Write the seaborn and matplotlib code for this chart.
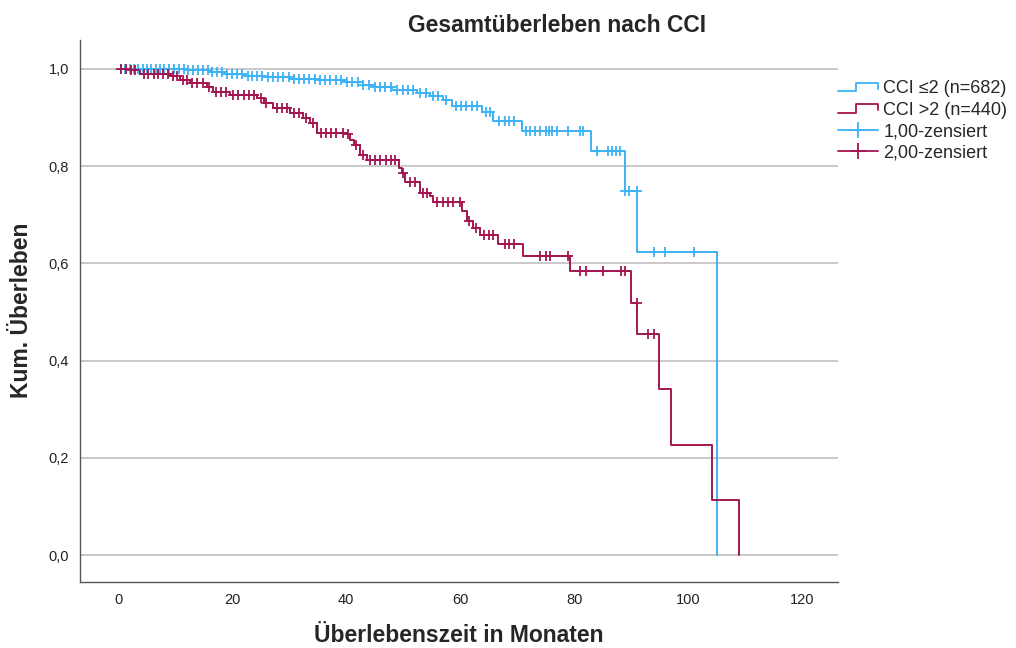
import numpy as np
import pandas as pd
import matplotlib
matplotlib.use("Agg")
import matplotlib.pyplot as plt
import seaborn as sns
from matplotlib.lines import Line2D
from matplotlib.legend_handler import HandlerBase
from matplotlib.ticker import FuncFormatter
from matplotlib import font_manager

# ---- data ----
blue_times = [0, 12, 16, 19, 22, 26, 30, 35, 40, 43, 45, 48, 52.4, 54.7, 57, 58.6,
              63.8, 65.8, 70.8, 82.9, 88.9, 91.1, 105]
blue_surv = [1.0, 0.997, 0.994, 0.990, 0.986, 0.983, 0.979, 0.976, 0.973, 0.967, 0.962,
             0.957, 0.950, 0.943, 0.935, 0.923, 0.912, 0.892, 0.872, 0.831, 0.748, 0.623, 0.0]
blue_cens = [0.5, 1.2, 2.0, 2.8, 3.5, 4.3, 5.1, 5.8, 6.6, 7.4, 8.1, 9.0, 9.8, 10.6, 11.5,
             12.3, 13.1, 14.0, 14.8, 15.7, 16.5, 17.4, 18.2, 19.1, 20.0, 20.9, 21.8, 22.7,
             23.5, 24.4, 25.3, 26.2, 27.1, 28.0, 29.0, 29.9, 30.8, 31.7, 32.6, 33.5, 34.5,
             35.4, 36.3, 37.2, 38.2, 39.1, 40.1, 41.0, 42.0, 43.0, 44.0, 45.0, 46.0, 46.9,
             47.9, 48.9, 49.9, 50.9, 51.8, 53.0, 54.0, 55.2, 56.2, 57.5, 59.2, 60.2, 61.1,
             62.0, 63.0, 64.5, 65.2, 66.9, 67.8, 68.6, 69.5, 71.5, 72.3, 73.1, 74.0, 75.0,
             75.6, 76.1, 77.0, 79.0, 81.0, 81.6, 84.0, 86.0, 86.7, 87.4, 88.1, 89.0, 89.6,
             91.0, 94.0, 96.0, 101.0]

red_times = [0, 2.1, 3.9, 9.1, 10.9, 12.6, 15.6, 16.7, 19.6, 24.3, 25.5, 27.2, 30.2, 32.5,
             33.7, 34.9, 40.1, 40.7, 41.3, 42.5, 43.6, 49.2, 49.8, 50.4, 53.0, 54.7, 55.3,
             60.3, 61.2, 62.3, 63.5, 66.7, 71.0, 79.2, 89.9, 91.1, 94.9, 97.0, 104.2, 109.0]
red_surv = [1.0, 0.997, 0.990, 0.984, 0.977, 0.970, 0.963, 0.953, 0.946, 0.939, 0.929,
            0.919, 0.908, 0.898, 0.888, 0.868, 0.865, 0.854, 0.844, 0.823, 0.813, 0.796,
            0.785, 0.768, 0.744, 0.738, 0.727, 0.707, 0.686, 0.673, 0.659, 0.640, 0.615,
            0.584, 0.519, 0.454, 0.342, 0.227, 0.114, 0.0]
red_cens = [0.5, 1.3, 2.2, 3.0, 4.5, 5.3, 6.2, 7.0, 7.9, 8.7, 9.6, 10.4, 11.3, 12.1, 13.0,
            13.9, 14.8, 16.0, 17.2, 18.1, 19.0, 20.2, 21.1, 22.0, 22.9, 23.8, 25.0, 26.0,
            27.8, 28.7, 29.6, 30.8, 31.7, 33.0, 34.2, 35.5, 36.4, 37.3, 38.2, 39.4, 40.4,
            41.8, 43.0, 44.2, 45.1, 46.0, 47.0, 47.9, 48.6, 50.0, 51.2, 52.0, 53.5, 54.2,
            56.0, 57.0, 57.9, 58.8, 60.0, 61.5, 62.8, 64.2, 65.0, 65.8, 67.8, 68.6, 69.4,
            74.0, 75.0, 75.8, 79.0, 81.0, 82.0, 85.0, 88.2, 89.0, 91.0, 93.0, 94.0]

series_labels = ["CCI \u22642 (n=682)", "CCI >2 (n=440)"]
censor_labels = ["1,00-zensiert", "2,00-zensiert"]
x_ticks = [0, 20, 40, 60, 80, 100, 120]
y_ticks = [0.0, 0.2, 0.4, 0.6, 0.8, 1.0]

BLUE = "#3db2f5"
RED = "#a3164f"

sns.set_theme(style="white")
installed = {f.name for f in font_manager.fontManager.ttflist}
fams = [f for f in ["DejaVu Sans Condensed", "Liberation Sans Narrow", "Liberation Sans"]
        if f in installed] + ["DejaVu Sans"]
plt.rcParams["font.family"] = fams

fig = plt.figure(figsize=(10.16, 6.48), dpi=100)
ax = fig.add_axes([80 / 1016, 1 - 582 / 648, (838 - 80) / 1016, (582 - 40) / 648])


def surv_at(times, surv, t):
    idx = np.searchsorted(np.asarray(times), t, side="right") - 1
    return np.asarray(surv)[idx]


for ax_y in y_ticks:
    ax.axhline(ax_y, color="#c9c9c9", lw=1.4, zorder=0)

for times, surv, cens, col in [(blue_times, blue_surv, blue_cens, BLUE),
                               (red_times, red_surv, red_cens, RED)]:
    df = pd.DataFrame({"t": times, "s": surv})
    sns.lineplot(data=df, x="t", y="s", drawstyle="steps-post", color=col, lw=1.4,
                 ax=ax, estimator=None, sort=False, zorder=3)
    cdf = pd.DataFrame({"t": cens, "s": surv_at(times, surv, np.asarray(cens))})
    sns.scatterplot(data=cdf, x="t", y="s", marker="+", s=60, linewidth=1.3,
                    color=col, ax=ax, zorder=4)

ax.set_xlim(-6.7, 126.3)
ax.set_ylim(-0.055, 1.059)
ax.set_xticks(x_ticks)
ax.set_yticks(y_ticks)
ax.xaxis.set_major_formatter(FuncFormatter(lambda v, p: f"{v:.0f}"))
ax.yaxis.set_major_formatter(FuncFormatter(lambda v, p: f"{v:.1f}".replace(".", ",")))
ax.tick_params(axis="both", length=0, labelsize=10.5, colors="#222222")
ax.tick_params(axis="x", pad=8)
ax.tick_params(axis="y", pad=8)
for side in ["top", "right"]:
    ax.spines[side].set_visible(False)
for side in ["left", "bottom"]:
    ax.spines[side].set_color("#555555")
    ax.spines[side].set_linewidth(1.0)
ax.set_xlabel("")
ax.set_ylabel("")

fig.text(459 / 1016, 1 - 635 / 648, "\u00dcberlebenszeit in Monaten", ha="center",
         va="center", fontsize=16.5, fontweight="bold")
fig.text(22 / 1016, 1 - 310 / 648, "Kum. \u00dcberleben", ha="center", va="center",
         rotation=90, fontsize=16.5, fontweight="bold")
fig.text(557 / 1016, 1 - 25 / 648, "Gesamt\u00fcberleben nach CCI", ha="center",
         va="center", fontsize=16.5, fontweight="bold")


class StepHandler(HandlerBase):
    def create_artists(self, legend, orig_handle, xdescent, ydescent, width, height,
                       fontsize, trans):
        x0, y0 = -xdescent, -ydescent
        lo, hi = y0 + height * 0.15, y0 + height * 0.8
        xs = [x0, x0 + width * 0.45, x0 + width * 0.45, x0 + width, x0 + width]
        ys = [lo, lo, hi, hi, y0 + height * 0.35]
        ln = Line2D(xs, ys, color=orig_handle.get_color(), lw=1.3)
        ln.set_transform(trans)
        return [ln]


h1 = Line2D([], [], color=BLUE)
h2 = Line2D([], [], color=RED)
h3 = Line2D([], [], color=BLUE, marker="+", markersize=12, markeredgewidth=1.3, lw=1.3)
h4 = Line2D([], [], color=RED, marker="+", markersize=12, markeredgewidth=1.3, lw=1.3)
leg = fig.legend([h1, h2, h3, h4], series_labels + censor_labels,
                 loc="upper left", bbox_to_anchor=(838 / 1016, 1 - 80 / 648),
                 frameon=False, fontsize=13, handlelength=2.2, handletextpad=0.3,
                 labelspacing=0.25, borderaxespad=0, borderpad=0,
                 handler_map={h1: StepHandler(), h2: StepHandler()})

fig.savefig("out.png", dpi=100)
